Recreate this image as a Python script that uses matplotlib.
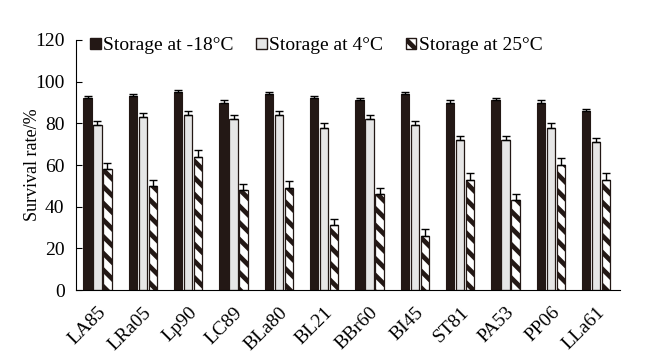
import numpy as np
import matplotlib.pyplot as plt
from matplotlib.patches import Patch

plt.rcParams['font.family'] = ['Liberation Serif', 'DejaVu Serif']
plt.rcParams['hatch.linewidth'] = 3.4

# Данные
strains = ['LA85', 'LRa05', 'Lp90', 'LC89', 'BLa80', 'BL21',
           'BBr60', 'BI45', 'ST81', 'PA53', 'PP06', 'LLa61']
t_minus18 = [92, 93, 95, 90, 94, 92, 91, 94, 90, 91, 90, 86]
t_4 = [79, 83, 84, 82, 84, 78, 82, 79, 72, 72, 78, 71]
t_25 = [58, 50, 64, 48, 49, 31, 46, 26, 53, 43, 60, 53]
err_minus18 = [1, 1, 1, 1.2, 1, 1, 1, 1, 1.2, 1, 1.2, 1]
err_4 = [2, 2, 2, 2, 2, 2.2, 2, 2, 2, 2, 2.3, 2]
err_25 = [3, 3, 3, 3, 3.3, 3, 3, 3.2, 3.2, 3, 3.3, 3.2]

x = np.arange(len(strains))
w = 0.183
step = 0.22

fig = plt.figure(figsize=(6.45, 3.59), dpi=100)
ax = fig.add_axes([0.1174, 0.192, 0.961 - 0.1174, 0.8886 - 0.192])

ekw = dict(ecolor='black', elinewidth=1, capsize=3, capthick=1)
ax.bar(x - step, t_minus18, w, color='#231815', edgecolor='#231815', linewidth=0.8,
       yerr=[np.zeros(len(x)), err_minus18], error_kw=ekw)
ax.bar(x, t_4, w, color='#e6e6e6', edgecolor='#231815', linewidth=0.9,
       yerr=[np.zeros(len(x)), err_4], error_kw=ekw)
ax.bar(x + step, t_25, w, color='white', edgecolor='#231815', linewidth=0.9,
       hatch='\\\\', yerr=[np.zeros(len(x)), err_25], error_kw=ekw)

ax.set_xlim(-0.48, 11.52)
ax.set_ylim(0, 120)
ax.set_yticks(range(0, 121, 20))
ax.set_xticks(x)
ax.set_xticklabels(strains, rotation=45, ha='right', rotation_mode='anchor')
ax.tick_params(axis='y', direction='in', length=4, labelsize=14, pad=8)
ax.tick_params(axis='x', length=0, labelsize=14, pad=10)
ax.spines['top'].set_visible(False)
ax.spines['right'].set_visible(False)
ax.set_ylabel('Survival rate/%', fontsize=13, labelpad=-4.5)

handles = [
    Patch(facecolor='#231815', edgecolor='#231815', label='Storage at -18°C'),
    Patch(facecolor='#e6e6e6', edgecolor='#231815', label='Storage at 4°C'),
    Patch(facecolor='white', edgecolor='#231815', hatch='\\\\', label='Storage at 25°C'),
]
ax.legend(handles=handles, ncol=3, loc='upper left', bbox_to_anchor=(0.002, 1.065),
          frameon=False, fontsize=14, handlelength=0.55, handleheight=0.55,
          handletextpad=0.12, columnspacing=1.15, borderpad=0.2)

plt.savefig('out.png', dpi=100)
